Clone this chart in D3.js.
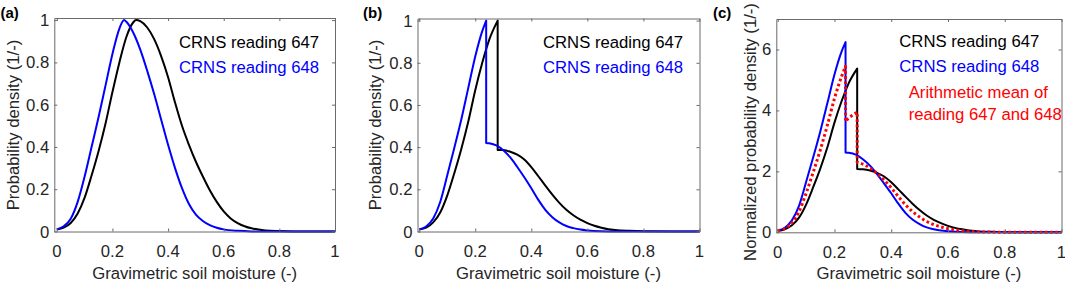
<!DOCTYPE html>
<html>
<head>
<meta charset="utf-8">
<script src="https://cdn.jsdelivr.net/npm/d3@7"></script>
<style>
  html, body { margin: 0; padding: 0; background: #fff; }
  svg { display: block; }
  text { font-family: "Liberation Sans", Arial, Helvetica, sans-serif; }
</style>
</head>
<body>
<div id="chart"></div>
<script>
// ---------------- DATA ----------------
const xTicks = [0, 0.2, 0.4, 0.6, 0.8, 1];
const yTicksAB = [0, 0.2, 0.4, 0.6, 0.8, 1];
const yTicksC = [0, 2, 4, 6];
const xLabel = "Gravimetric soil moisture (-)";
const yLabelAB = "Probability density (1/-)";
const yLabelC = "Normalized probability density (1/-)";
const panelLetters = ["(a)", "(b)", "(c)"];
const legendA = ["CRNS reading 647", "CRNS reading 648"];
const legendC = ["CRNS reading 647", "CRNS reading 648", "Arithmetic mean of", "reading 647 and 648"];

// Panel (a)
const aBlackX = [0,0.025,0.05,0.075,0.1,0.125,0.15,0.175,0.2,0.225,0.25,0.275,0.285,0.3,0.325,0.35,0.375,0.4,0.425,0.45,0.475,0.5,0.525,0.55,0.575,0.6,0.625,0.65,0.675,0.7,0.725,0.75,0.8,0.85,0.9,1.0];
const aBlackY = [0.01,0.018,0.04,0.085,0.16,0.265,0.38,0.51,0.66,0.80,0.92,0.99,1.0,0.995,0.965,0.91,0.83,0.73,0.61,0.50,0.41,0.33,0.26,0.195,0.14,0.095,0.062,0.04,0.025,0.015,0.009,0.005,0.002,0.0005,0,0];
const aBlueX = [0,0.025,0.05,0.075,0.1,0.125,0.15,0.175,0.2,0.225,0.242,0.25,0.275,0.3,0.325,0.35,0.375,0.4,0.425,0.45,0.475,0.5,0.525,0.55,0.575,0.6,0.65,0.7,0.8,0.9,1.0];
const aBlueY = [0.01,0.025,0.06,0.14,0.26,0.40,0.54,0.69,0.84,0.96,1.0,0.992,0.94,0.86,0.76,0.65,0.53,0.41,0.30,0.205,0.13,0.08,0.05,0.03,0.018,0.01,0.003,0.0005,0,0,0];

// Panel (b)
const bBlackLX = [0,0.025,0.05,0.075,0.1,0.125,0.15,0.175,0.2,0.225,0.25,0.28];
const bBlackLY = [0.01,0.018,0.043,0.09,0.17,0.275,0.39,0.52,0.67,0.80,0.91,1.0];
const bBlackRX = [0.28,0.3,0.325,0.35,0.375,0.4,0.425,0.45,0.475,0.5,0.525,0.55,0.575,0.6,0.625,0.65,0.675,0.7,0.75,0.8,0.9,1.0];
const bBlackRY = [0.387,0.386,0.378,0.364,0.341,0.305,0.262,0.218,0.175,0.136,0.103,0.077,0.056,0.04,0.027,0.018,0.011,0.007,0.003,0.001,0,0];
const bBlueLX = [0,0.025,0.05,0.075,0.1,0.125,0.15,0.175,0.2,0.225,0.239];
const bBlueLY = [0.01,0.024,0.062,0.14,0.265,0.395,0.53,0.68,0.83,0.95,1.0];
const bBlueRX = [0.239,0.25,0.275,0.3,0.325,0.35,0.375,0.4,0.425,0.45,0.475,0.5,0.525,0.55,0.575,0.6,0.65,0.7,0.8,1.0];
const bBlueRY = [0.42,0.418,0.408,0.385,0.351,0.306,0.257,0.205,0.15,0.103,0.068,0.043,0.026,0.016,0.009,0.005,0.001,0,0,0];

// Panel (c)
const cBlackLX = [0,0.025,0.05,0.075,0.1,0.125,0.15,0.175,0.2,0.225,0.25,0.28];
const cBlackLY = [0.05,0.10,0.23,0.48,0.91,1.48,2.09,2.79,3.60,4.30,4.89,5.37];
const cBlackRX = [0.28,0.3,0.325,0.35,0.375,0.4,0.425,0.45,0.475,0.5,0.525,0.55,0.575,0.6,0.625,0.65,0.675,0.7,0.75,0.8,0.9,1.0];
const cBlackRY = [2.08,2.07,2.03,1.95,1.83,1.64,1.41,1.17,0.94,0.73,0.55,0.41,0.30,0.21,0.145,0.097,0.059,0.038,0.016,0.005,0,0];
const cBlueLX = [0,0.025,0.05,0.075,0.1,0.125,0.15,0.175,0.2,0.225,0.239];
const cBlueLY = [0.06,0.15,0.39,0.87,1.65,2.46,3.31,4.24,5.18,5.93,6.24];
const cBlueRX = [0.239,0.25,0.275,0.3,0.325,0.35,0.375,0.4,0.425,0.45,0.475,0.5,0.525,0.55,0.575,0.6,0.65,0.7,0.8,1.0];
const cBlueRY = [2.62,2.61,2.55,2.40,2.19,1.91,1.60,1.28,0.94,0.64,0.42,0.27,0.16,0.10,0.056,0.031,0.006,0,0,0];
const cMeanLX = [0,0.025,0.05,0.075,0.1,0.125,0.15,0.175,0.2,0.225,0.239];
const cMeanLY = [0.055,0.125,0.31,0.675,1.28,1.97,2.70,3.515,4.39,5.115,5.445];
const cMeanMX = [0.239,0.25,0.265,0.28];
const cMeanMY = [3.635,3.75,3.85,3.945];
const cMeanRX = [0.28,0.3,0.325,0.35,0.375,0.4,0.425,0.45,0.475,0.5,0.525,0.55,0.575,0.6,0.625,0.65,0.675,0.7,0.75,0.8,0.9,1.0];
const cMeanRY = [2.30,2.235,2.11,1.93,1.715,1.46,1.175,0.905,0.68,0.50,0.355,0.255,0.178,0.12,0.08,0.052,0.03,0.019,0.008,0.0025,0,0];

// ---------------- DRAW ----------------
const W = 1065, H = 282;
const svg = d3.select("#chart").append("svg").attr("width", W).attr("height", H);
const FONT = 16.7;
const AXIS_COLOR = "#6a6a6a";
const TEXT_COLOR = "#262626";

const zip = (xs, ys) => xs.map((x, i) => [x, ys[i]]);

const layouts = [
  { left: 54.3, right: 335, top: 18, bottom: 231.5, xDom: [-0.009, 1], yDom: [0, 1.01], yTicks: yTicksAB, ylabel: yLabelAB, ylabX: 18.5, ylabY: 125, letterX: 0.5, letterY: 18 },
  { left: 417.5, right: 699.5, top: 18.5, bottom: 231.5, xDom: [-0.006, 1], yDom: [0, 1.01], yTicks: yTicksAB, ylabel: yLabelAB, ylabX: 381, ylabY: 125, letterX: 363, letterY: 18 },
  { left: 776.3, right: 1061.5, top: 19, bottom: 232.3, xDom: [-0.005, 1], yDom: [0, 7], yTicks: yTicksC, ylabel: yLabelC, ylabX: 756, ylabY: 132, letterX: 713, letterY: 18 }
];

const seriesSets = [
  [ { parts: [zip(aBlackX, aBlackY)], color: "#000000" },
    { parts: [zip(aBlueX, aBlueY)], color: "#0000ff" } ],
  [ { parts: [zip(bBlackLX, bBlackLY), zip(bBlackRX, bBlackRY)], color: "#000000" },
    { parts: [zip(bBlueLX, bBlueLY), zip(bBlueRX, bBlueRY)], color: "#0000ff" } ],
  [ { parts: [zip(cBlackLX, cBlackLY), zip(cBlackRX, cBlackRY)], color: "#000000" },
    { parts: [zip(cBlueLX, cBlueLY), zip(cBlueRX, cBlueRY)], color: "#0000ff" },
    { parts: [zip(cMeanLX, cMeanLY), zip(cMeanMX, cMeanMY), zip(cMeanRX, cMeanRY)], color: "#ff0000", dotted: true } ]
];

const legends = [
  [ { text: legendA[0], color: "#000", x: 179, y: 47.5 }, { text: legendA[1], color: "#0000ff", x: 179, y: 72.5 } ],
  [ { text: legendA[0], color: "#000", x: 543, y: 47.5 }, { text: legendA[1], color: "#0000ff", x: 543, y: 72.5 } ],
  [ { text: legendC[0], color: "#000", x: 899.3, y: 46.7 }, { text: legendC[1], color: "#0000ff", x: 899.3, y: 71.7 },
    { text: legendC[2], color: "#ff0000", x: 908.7, y: 97.7 }, { text: legendC[3], color: "#ff0000", x: 908.7, y: 119.5 } ]
];

layouts.forEach((L, pi) => {
  const x = d3.scaleLinear().domain(L.xDom).range([L.left, L.right]);
  const y = d3.scaleLinear().domain(L.yDom).range([L.bottom, L.top]);
  const g = svg.append("g");

  // curves
  const line = d3.line().x(d => x(d[0])).y(d => y(d[1])).curve(d3.curveMonotoneX);
  seriesSets[pi].forEach(s => {
    const dStr = s.parts.map((p, i) => {
      const seg = line(p);
      return i === 0 ? seg : seg.replace(/^M/, "L");
    }).join("");
    const path = g.append("path").attr("d", dStr)
      .attr("fill", "none").attr("stroke", s.color)
      .attr("stroke-width", s.dotted ? 3 : 2)
      .attr("stroke-linejoin", "round");
    if (s.dotted) path.attr("stroke-dasharray", "2.6,2.6");
  });

  // axes (box with inward ticks on all sides)
  const axB = d3.axisBottom(x).tickValues(xTicks).tickSizeInner(-3).tickSizeOuter(0).tickFormat("");
  const axT = d3.axisTop(x).tickValues(xTicks).tickSizeInner(-3).tickSizeOuter(0).tickFormat("");
  const axL = d3.axisLeft(y).tickValues(L.yTicks).tickSizeInner(-3).tickSizeOuter(0).tickFormat("");
  const axR = d3.axisRight(y).tickValues(L.yTicks).tickSizeInner(-3).tickSizeOuter(0).tickFormat("");
  [[axB, `translate(0,${L.bottom})`], [axT, `translate(0,${L.top})`], [axL, `translate(${L.left},0)`], [axR, `translate(${L.right},0)`]]
    .forEach(([ax, tr]) => {
      const a = g.append("g").attr("transform", tr).call(ax);
      a.selectAll("path,line").attr("stroke", AXIS_COLOR).attr("stroke-width", 1);
      a.selectAll("text").remove();
    });

  // tick labels
  g.selectAll(".xt").data(xTicks).enter().append("text")
    .attr("x", d => x(d)).attr("y", L.bottom + 25.5)
    .attr("text-anchor", "middle").attr("font-size", FONT).attr("fill", TEXT_COLOR)
    .text(d => String(d));
  g.selectAll(".yt").data(L.yTicks).enter().append("text")
    .attr("x", L.left - 5).attr("y", d => y(d)).attr("dy", "0.36em")
    .attr("text-anchor", "end").attr("font-size", FONT).attr("fill", TEXT_COLOR)
    .text(d => String(d));

  // axis labels
  g.append("text").attr("x", (L.left + L.right) / 2).attr("y", 279)
    .attr("text-anchor", "middle").attr("font-size", FONT).attr("fill", TEXT_COLOR).text(xLabel);
  g.append("text").attr("transform", `translate(${L.ylabX},${L.ylabY}) rotate(-90)`)
    .attr("text-anchor", "middle").attr("font-size", FONT).attr("fill", TEXT_COLOR).text(L.ylabel);

  // panel letter
  g.append("text").attr("x", L.letterX).attr("y", L.letterY)
    .attr("font-size", 15).attr("font-weight", "bold").attr("fill", "#000").text(panelLetters[pi]);

  // legend
  legends[pi].forEach(t => {
    g.append("text").attr("x", t.x).attr("y", t.y).attr("font-size", FONT).attr("fill", t.color).text(t.text);
  });
});
</script>
</body>
</html>
